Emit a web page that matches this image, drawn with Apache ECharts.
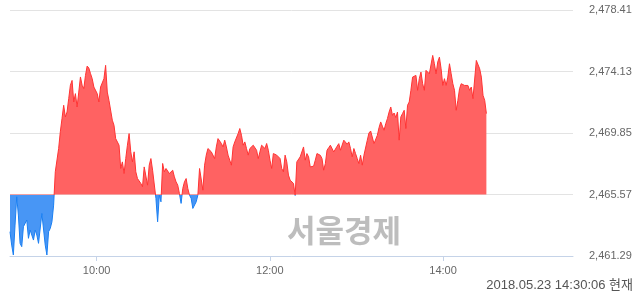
<!DOCTYPE html>
<html><head><meta charset="utf-8">
<script src="https://cdn.jsdelivr.net/npm/echarts@6/dist/echarts.min.js"></script>
<style>html,body{margin:0;padding:0;background:#fff}#c{width:640px;height:294px}</style>
</head><body><div id="c"></div>
<script>
// previous close (baseline) and y-axis levels
const baseValue = 2465.57;
const yTicks = [2461.29, 2465.57, 2469.85, 2474.13, 2478.41];
// x-axis: minutes after 09:00, session 09:00-15:30
const xTickMinutes = [60, 180, 300];
const xTickLabels = ['10:00', '12:00', '14:00'];
const sessionMinutes = 390;
const lastMinute = 330; // 14:30
const stampText = '2018.05.23 14:30:06 현재';
const watermark = '서울경제';

// KOSPI intraday values, evenly sampled from 09:00 to 14:30
const values = [
2462.98,2462.05,2461.36,2463.44,2465.41,2464.14,2462.17,2461.94,2463.33,2463.21,
2463.79,2462.52,2463.10,2462.98,2462.40,2463.10,2462.75,2462.17,2462.29,2464.25,
2464.37,2462.05,2461.36,2462.98,2463.21,2463.67,2464.83,2467.15,2467.15,2468.77,
2469.93,2470.85,2471.78,2470.97,2471.31,2472.24,2473.17,2473.51,2472.01,2472.59,
2471.66,2472.70,2473.75,2473.17,2472.94,2473.86,2474.51,2474.37,2473.98,2473.63,
2473.05,2472.94,2472.59,2472.01,2473.05,2473.17,2473.63,2474.56,2472.70,
2472.12,2472.01,2470.74,2470.39,2469.46,2469.58,2469.00,2467.38,2467.84,2467.03,
2468.07,2469.00,2469.81,2468.54,2467.84,2468.54,2467.15,2466.68,2466.57,2466.34,
2466.11,2467.49,2467.38,2466.22,2467.61,2468.07,2467.26,2467.26,2465.30,2463.67,
2465.53,2465.06,2467.73,2467.15,2467.38,2467.26,2467.03,2467.15,2467.26,2466.80,
2466.45,2466.22,2465.64,2464.95,2465.99,2466.45,2466.68,2465.99,2465.53,2465.30,
2464.60,2464.49,2465.06,2465.53,2467.38,2467.26,2465.87,2467.61,
2468.31,2468.77,2468.77,2468.54,2468.42,2468.07,2468.88,2469.46,2469.58,2469.12,
2468.88,2469.35,2468.88,2468.31,2468.31,2467.61,2468.88,2469.23,2469.12,2469.81,
2470.16,2469.69,2469.00,2469.23,2468.77,2468.31,2468.77,2468.88,2469.00,2469.00,
2468.65,2468.07,2468.19,2469.00,2468.88,2468.77,2469.12,2468.65,2467.96,2467.38,
2468.42,2468.54,2468.31,2468.19,2468.07,2467.38,2467.15,2468.31,2467.84,2466.92,
2466.57,2466.68,2466.34,2465.50,2467.84,2467.73,2468.19,
2468.19,2468.88,2467.96,2468.42,2468.19,2467.49,2467.54,2467.54,2467.96,2468.42,
2468.30,2468.30,2468.07,2467.26,2467.72,2468.65,2468.83,2469.00,2468.93,2468.53,
2468.42,2468.93,2469.11,2468.65,2468.65,2469.35,2469.35,2469.07,2469.23,2468.77,
2468.19,2468.77,2468.42,2468.07,2467.72,2468.30,2467.61,2468.30,2468.42,2469.35,
2469.85,2469.99,2469.92,2469.11,2469.11,2469.69,2470.22,2470.62,2470.32,2470.04,
2470.50,2470.85,2471.31,2471.66,2471.08,2471.24,2470.92,2471.31,
2469.35,2470.97,2471.20,2471.43,2470.16,2471.78,2472.01,2472.82,2473.74,2473.63,
2473.86,2472.82,2473.63,2474.09,2473.28,2472.82,2474.21,2474.32,2473.97,2474.09,
2475.25,2474.67,2473.97,2474.79,2475.13,2474.32,2473.16,2473.63,2473.16,2473.74,
2474.67,2473.97,2473.28,2472.82,2471.43,2472.12,2472.93,2473.28,2473.40,2473.16,
2473.05,2473.16,2472.82,2473.05,2472.24,2472.24,2474.90,2475.02,2474.32,2473.74,
2472.47,2472.12,2471.20
];

const step = lastMinute / (values.length - 1);
const seriesData = values.map((v, i) => [i * step, v]);

function fmtY(v) {
  return Number(v).toFixed(2).replace(/\B(?=(\d{3})+(?!\d))/, ',');
}

const GRID = {left: 10, right: 67, top: 10, bottom: 38};
const H = 294;
const yMin = yTicks[0], yMax = yTicks[yTicks.length - 1];
const split = (yMax - baseValue) / (yMax - yMin);

function splitGradient(upColor, downColor) {
  return new echarts.graphic.LinearGradient(0, GRID.top, 0, H - GRID.bottom, [
    {offset: 0, color: upColor},
    {offset: split, color: upColor},
    {offset: split, color: downColor},
    {offset: 1, color: downColor}
  ], true);
}

const chart = echarts.init(document.getElementById('c'), null, {renderer: 'canvas'});
chart.setOption({
  animation: false,
  backgroundColor: '#fff',
  grid: Object.assign({containLabel: false}, GRID),
  xAxis: {
    type: 'value', min: 0, max: sessionMinutes,
    axisLine: {show: true, lineStyle: {color: '#c5d3e8', width: 1}},
    axisTick: {show: true, length: 5, lineStyle: {color: '#c5d3e8'}, customValues: xTickMinutes},
    axisLabel: {
      customValues: xTickMinutes, color: '#666', fontSize: 11, fontFamily: 'Liberation Sans',
      margin: 9,
      formatter: v => xTickLabels[xTickMinutes.indexOf(Math.round(v))] || ''
    },
    splitLine: {show: false}
  },
  yAxis: {
    type: 'value', position: 'right',
    min: yMin, max: yMax, interval: 4.28,
    axisLine: {show: false}, axisTick: {show: false},
    axisLabel: {color: '#666', fontSize: 11, fontFamily: 'Liberation Sans', margin: 16, formatter: fmtY},
    splitLine: {show: true, lineStyle: {color: '#e3e3e3', width: 1}}
  },
  series: [{
    type: 'line', data: seriesData, symbol: 'none', smooth: false,
    lineStyle: {width: 1, color: splitGradient('#ff3333', '#1a7ff2')},
    areaStyle: {origin: baseValue, opacity: 1, color: splitGradient('#ff6262', '#4896f5')},
    z: 3
  }],
  graphic: [
    {type: 'text', left: 287, top: 215, z: 10,
     style: {text: watermark, fill: '#bdbdbd', font: 'bold 31px "Noto Sans CJK KR"'}},
    {type: 'text', right: 7, top: 279,
     style: {text: stampText, fill: '#555', font: '13px "Liberation Sans", "Noto Sans CJK KR"'}}
  ]
});
</script></body></html>
